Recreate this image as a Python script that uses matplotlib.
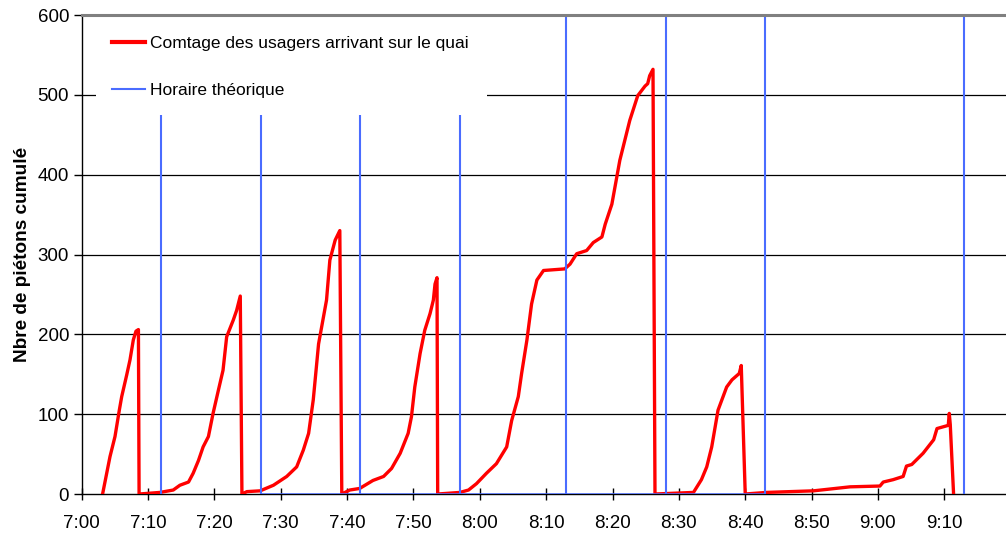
"""Cumulative pedestrian arrivals on the platform vs scheduled departures"""
import matplotlib
matplotlib.use("Agg")
import matplotlib.pyplot as plt
from matplotlib.patches import Rectangle
from matplotlib.lines import Line2D

plt.rcParams["font.family"] = ["Liberation Sans", "DejaVu Sans"]

# minutes after 7:00 / cumulative count
count_t = [3.15, 4.27, 5.02, 5.67, 6.03, 6.78, 7.28, 7.78, 8.18, 8.55, 8.65,
           11.8, 13.8, 14.8, 16.1, 16.8, 17.6, 18.3, 19.1, 19.8, 20.6, 21.3,
           21.85, 22.85, 23.35, 23.9, 24.15,
           24.9, 26.9, 28.9, 30.9, 32.4, 33.4, 34.2, 34.9, 35.7, 36.9, 37.4,
           38.2, 38.9, 39.2,
           40.4, 41.9, 43.9, 45.5, 46.7, 48.0, 49.2, 49.7, 50.2, 51.0, 51.7,
           52.5, 53.0, 53.25, 53.55, 53.65,
           57.0, 58.3, 59.5, 61.0, 62.5, 64.05, 64.8, 65.8, 66.3, 67.1, 67.8,
           68.6, 69.6, 72.8, 73.6, 74.6, 76.1, 77.1, 78.4, 78.9, 79.9, 81.1,
           82.6, 83.8, 84.9, 85.3, 85.6, 86.1, 86.4,
           92.2, 93.4, 94.2, 94.95, 95.9, 97.2, 98.0, 99.1, 99.4, 100.0,
           103.2, 110.3, 115.8, 120.3, 120.8, 122.3, 123.8, 124.3, 125.1,
           126.8, 128.4, 128.9, 130.6, 130.75, 130.9, 131.4]
count_v = [0, 47, 72, 105, 122, 149, 168, 193, 204, 206, 0,
           2, 5, 11, 15, 26, 42, 59, 72, 101, 130, 155,
           197, 218, 230, 248, 0,
           3, 4, 11, 22, 34, 55, 76, 118, 188, 243, 293,
           318, 330, 0,
           5, 7, 17, 22, 32, 51, 76, 97, 134, 176, 205,
           226, 243, 263, 271, 0,
           2, 5, 13, 26, 38, 59, 92, 122, 151, 193, 238,
           268, 280, 282, 288, 301, 305, 315, 322, 338, 363, 418,
           468, 499, 511, 514, 524, 532, 0,
           2, 18, 34, 59, 105, 134, 143, 151, 161, 0,
           2, 4, 9, 10, 15, 18, 22, 35, 37,
           51, 68, 82, 86, 101, 87, 0]

# scheduled departures, minutes after 7:00
schedule = [12, 27, 42, 57, 73, 88, 103, 133]

x_ticks = list(range(0, 131, 10))
x_labels = ["7:00", "7:10", "7:20", "7:30", "7:40", "7:50", "8:00", "8:10",
            "8:20", "8:30", "8:40", "8:50", "9:00", "9:10"]
y_ticks = [0, 100, 200, 300, 400, 500, 600]

RED = "#ff0000"
BLUE = "#4a6cff"

fig = plt.figure(figsize=(10.06, 5.35), dpi=100)
ax = fig.add_axes([0.0812, 0.0766, 0.9188, 0.8953])

ax.plot(count_t, count_v, color=RED, lw=2.4, zorder=3, solid_joinstyle="round")
ax.vlines(schedule, 0, 600, color=BLUE, lw=1.5, zorder=4)
ax.hlines(0, schedule[1], schedule[6], color=BLUE, lw=1.8, zorder=4)

ax.set_xlim(0, 139.3)
ax.set_ylim(0, 600)
ax.set_xticks(x_ticks)
ax.set_xticklabels(x_labels)
ax.set_yticks(y_ticks)
for y in y_ticks[1:-1]:
    ax.axhline(y, color="black", lw=0.9, zorder=1)

ax.spines["right"].set_visible(False)
ax.spines["top"].set_color("#808080")
ax.spines["top"].set_linewidth(2.2)
ax.spines["top"].set_zorder(7)
ax.spines["left"].set_linewidth(1.0)
ax.spines["bottom"].set_linewidth(1.0)
ax.tick_params(axis="y", direction="out", length=6, width=1, labelsize=13.5, pad=3)
ax.tick_params(axis="x", direction="inout", length=8, width=1, labelsize=13.5, pad=11)

ax.set_ylabel("Nbre de piétons cumulé", fontsize=13.7, fontweight="bold", labelpad=5)

# white box behind the legend, hides the schedule lines
ax.add_patch(Rectangle((0.015, 0.791), 0.423, 0.21, transform=ax.transAxes,
                       facecolor="white", edgecolor="none", zorder=5))
handles = [Line2D([], [], color=RED, lw=3),
           Line2D([], [], color=BLUE, lw=1.5)]
leg = ax.legend(handles, ["Comtage des usagers arrivant sur le quai", "Horaire théorique"],
                loc="upper left", bbox_to_anchor=(0.033, 0.957), frameon=False,
                fontsize=12.5, handlelength=1.9, handletextpad=0.25,
                labelspacing=1.83, borderpad=0, borderaxespad=0)
leg.set_zorder(6)

fig.savefig("out.png", dpi=100)
